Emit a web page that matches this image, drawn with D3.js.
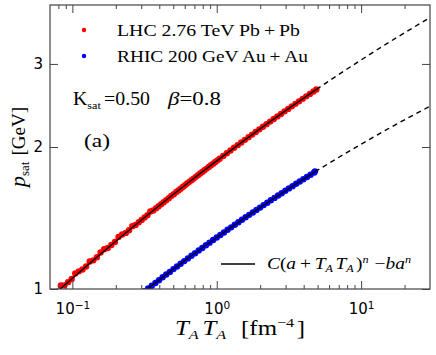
<!DOCTYPE html>
<html>
<head>
<meta charset="utf-8">
<script src="https://cdn.jsdelivr.net/npm/d3@7"></script>
<style>
body { margin: 0; background: #fff; }
svg { display: block; }
.serif { font-family: 'Liberation Serif', 'Times New Roman', serif; fill: #000; }
.axis text { font-family: 'DejaVu Sans', sans-serif; font-size: 15px; fill: #000; }
.axis line { stroke: #444; stroke-width: 1; }
.axis path { display: none; }
</style>
</head>
<body>
<svg id="chart" width="436" height="355"></svg>
<script>
// LHC 2.76 TeV Pb+Pb points (TA*TA in fm^-4, psat in GeV)
var lhcX = [0.0741, 0.0785, 0.0832, 0.0881, 0.0933, 0.0989, 0.1047, 0.1109, 0.1175, 0.1245,
            0.1318, 0.1396, 0.1479, 0.1567, 0.166, 0.1758, 0.1862, 0.1972, 0.2089, 0.2213,
            0.2344, 0.247, 0.26, 0.2739, 0.2884, 0.302, 0.3162, 0.3311, 0.3467, 0.3631,
            0.3802, 0.3959, 0.4121, 0.429, 0.4467, 0.465, 0.4842, 0.5041, 0.5248, 0.5433,
            0.5623, 0.5821, 0.6026, 0.6237, 0.6457, 0.6683, 0.6918, 0.7161, 0.7413, 0.7674,
            0.7943, 0.8222, 0.8511, 0.881, 0.912, 0.9441, 0.9772, 1.012, 1.047,
            1.109, 1.175, 1.245, 1.318, 1.396, 1.479, 1.567, 1.66, 1.758, 1.862,
            1.972, 2.089, 2.213, 2.344, 2.483, 2.63, 2.786, 2.951, 3.126, 3.311,
            3.508, 3.715, 3.936, 4.169, 4.416, 4.677, 4.898];
var lhcY = [0.972, 0.987, 1.017, 1.018, 1.034, 1.05, 1.079, 1.09, 1.1, 1.116,
            1.144, 1.15, 1.168, 1.195, 1.214, 1.222, 1.24, 1.258, 1.289, 1.305,
            1.315, 1.332, 1.359, 1.367, 1.385, 1.401, 1.418, 1.434, 1.46, 1.467,
            1.483, 1.498, 1.513, 1.528, 1.543, 1.558, 1.574, 1.589, 1.605, 1.618,
            1.632, 1.645, 1.659, 1.673, 1.687, 1.701, 1.714, 1.729, 1.743, 1.757,
            1.771, 1.786, 1.8, 1.815, 1.829, 1.844, 1.859, 1.874, 1.889,
            1.914, 1.94, 1.966, 1.992, 2.018, 2.044, 2.071, 2.098, 2.125, 2.152,
            2.18, 2.208, 2.236, 2.264, 2.293, 2.322, 2.35, 2.38, 2.409, 2.439,
            2.469, 2.499, 2.53, 2.561, 2.592, 2.623, 2.649];

// RHIC 200 GeV Au+Au points
var rhicX = [0.3162, 0.335, 0.3548, 0.3758, 0.3981, 0.4217, 0.4467, 0.4732, 0.5012, 0.5309,
             0.5623, 0.5957, 0.631, 0.6683, 0.7079, 0.7499, 0.7943, 0.8414, 0.8913, 0.9441,
             1, 1.059, 1.122, 1.189, 1.259, 1.334, 1.413, 1.496, 1.585, 1.679,
             1.778, 1.884, 1.995, 2.113, 2.239, 2.371, 2.512, 2.661, 2.818, 2.985,
             3.162, 3.35, 3.548, 3.758, 3.981, 4.217, 4.467, 4.732, 4.79];
var rhicY = [0.989, 1.003, 1.016, 1.03, 1.044, 1.059, 1.073, 1.087, 1.102, 1.116,
             1.131, 1.146, 1.161, 1.176, 1.191, 1.207, 1.222, 1.238, 1.254, 1.27,
             1.286, 1.302, 1.318, 1.335, 1.351, 1.368, 1.385, 1.402, 1.419, 1.436,
             1.453, 1.471, 1.488, 1.506, 1.524, 1.542, 1.56, 1.578, 1.596, 1.615,
             1.634, 1.652, 1.671, 1.69, 1.709, 1.728, 1.747, 1.766, 1.776];

// fit C(a+TA TA)^n - b a^n, solid over the data range, dashed beyond
var lhcFitX = [0.0794, 0.1585, 0.3162, 0.631, 1, 1.995, 4.898, 10, 15.85, 30];
var lhcFitY = [0.99, 1.189, 1.418, 1.678, 1.869, 2.185, 2.649, 3.059, 3.344, 3.762];
var rhicFitX = [0.3162, 0.631, 1, 1.995, 4.79, 10, 15.85, 30];
var rhicFitY = [0.989, 1.161, 1.286, 1.488, 1.772, 2.028, 2.197, 2.44];
var lhcFitEnd = 4.898;
var rhicFitEnd = 4.79;

// ticks
var xMajor = [0.1, 1, 10];
var xMinor = [0.08, 0.09, 0.2, 0.3, 0.4, 0.5, 0.6, 0.7, 0.8, 0.9,
              2, 3, 4, 5, 6, 7, 8, 9, 20];
var yTicks = [1, 2, 3];

function zip(xs, ys) {
    return xs.map(function(v, i) { return {x: v, y: ys[i]}; });
}

function drawChart(d3) {

    var svg = d3.select('#chart');

    var left = 50, right = 430, top = 5, bottom = 289;

    var x = d3.scaleLog().domain([0.07, 30]).range([left, right]);
    var y = d3.scaleLog().domain([1, 4]).range([bottom, top]);

    svg.append('defs').append('clipPath')
        .attr('id', 'plotclip')
        .append('rect')
        .attr('x', left).attr('y', top)
        .attr('width', right - left).attr('height', bottom - top);

    var plot = svg.append('g').attr('clip-path', 'url(#plotclip)');

    // data points
    plot.append('g').selectAll('circle')
        .data(zip(lhcX, lhcY))
        .enter().append('circle')
        .attr('cx', function(d) { return x(d.x); })
        .attr('cy', function(d) { return y(d.y); })
        .attr('r', 3.2)
        .attr('fill', '#ff0000');

    plot.append('g').selectAll('circle')
        .data(zip(rhicX, rhicY))
        .enter().append('circle')
        .attr('cx', function(d) { return x(d.x); })
        .attr('cy', function(d) { return y(d.y); })
        .attr('r', 3.2)
        .attr('fill', '#0000ff');

    // fit curves
    var line = d3.line()
        .x(function(d) { return x(d.x); })
        .y(function(d) { return y(d.y); })
        .curve(d3.curveMonotoneX);

    [[lhcFitX, lhcFitY, lhcFitEnd], [rhicFitX, rhicFitY, rhicFitEnd]].forEach(function(f) {
        var pts = zip(f[0], f[1]);
        plot.append('path')
            .datum(pts.filter(function(d) { return d.x <= f[2]; }))
            .attr('d', line)
            .attr('fill', 'none')
            .attr('stroke', '#000')
            .attr('stroke-width', 1.4);
        plot.append('path')
            .datum(pts.filter(function(d) { return d.x >= f[2]; }))
            .attr('d', line)
            .attr('fill', 'none')
            .attr('stroke', '#000')
            .attr('stroke-width', 1.4)
            .attr('stroke-dasharray', '5,4');
    });

    // axes, ticks pointing inwards
    var gxb = svg.append('g').attr('class', 'axis')
        .attr('transform', 'translate(0,' + bottom + ')')
        .call(d3.axisBottom(x).tickValues(xMajor).tickSize(-8).tickSizeOuter(0).tickPadding(14).tickFormat(''));
    gxb.selectAll('.tick text').each(function(d) {
        var t = d3.select(this);
        t.append('tspan').text('10');
        t.append('tspan').attr('dy', '-0.45em').style('font-size', '10.5px')
            .text(String(Math.round(Math.log10(d))).replace('-', '\u2212'));
    });
    svg.append('g').attr('class', 'axis')
        .attr('transform', 'translate(0,' + bottom + ')')
        .call(d3.axisBottom(x).tickValues(xMinor).tickSize(-4).tickSizeOuter(0).tickFormat(''));
    svg.append('g').attr('class', 'axis')
        .attr('transform', 'translate(0,' + top + ')')
        .call(d3.axisTop(x).tickValues(xMajor).tickSize(-8).tickSizeOuter(0).tickFormat(''));
    svg.append('g').attr('class', 'axis')
        .attr('transform', 'translate(0,' + top + ')')
        .call(d3.axisTop(x).tickValues(xMinor).tickSize(-4).tickSizeOuter(0).tickFormat(''));
    svg.append('g').attr('class', 'axis')
        .attr('transform', 'translate(' + left + ',0)')
        .call(d3.axisLeft(y).tickValues(yTicks).tickSize(-8).tickSizeOuter(0).tickPadding(7).tickFormat(d3.format('d')));
    svg.append('g').attr('class', 'axis')
        .attr('transform', 'translate(' + right + ',0)')
        .call(d3.axisRight(y).tickValues(yTicks).tickSize(-8).tickSizeOuter(0).tickFormat(''));

    svg.append('rect')
        .attr('x', left).attr('y', top)
        .attr('width', right - left).attr('height', bottom - top)
        .attr('fill', 'none')
        .attr('stroke', '#444')
        .attr('stroke-width', 1.2);

    // axis titles
    var xt = svg.append('text').attr('class', 'serif')
        .attr('x', 175).attr('y', 335)
        .attr('textLength', 130)
        .attr('lengthAdjust', 'spacingAndGlyphs')
        .style('font-size', '20px');
    xt.append('tspan').style('font-style', 'italic').text('T');
    xt.append('tspan').style('font-style', 'italic').style('font-size', '13px').attr('dy', 4).text('A');
    xt.append('tspan').style('font-style', 'italic').attr('dy', -4).attr('dx', 3).text('T');
    xt.append('tspan').style('font-style', 'italic').style('font-size', '13px').attr('dy', 4).text('A');
    xt.append('tspan').attr('dy', -4).attr('dx', 12).text('[fm');
    xt.append('tspan').style('font-size', '13px').attr('dy', -8).text('\u22124');
    xt.append('tspan').attr('dy', 8).attr('dx', 2).text(']');

    var yt = svg.append('text').attr('class', 'serif')
        .attr('transform', 'translate(25,' + (top + bottom) / 2 + ')rotate(-90)')
        .attr('text-anchor', 'middle')
        .style('font-size', '19px');
    yt.append('tspan').style('font-style', 'italic').style('font-size', '22px').text('p');
    yt.append('tspan').style('font-size', '13px').attr('dy', 4).text('sat');
    yt.append('tspan').attr('dy', -4).attr('dx', 6).text('[GeV]');

    // legend for the points
    var legend = [
        {label: 'LHC 2.76 TeV Pb\u2009+\u2009Pb', color: '#ff0000', y: 30, w: 183},
        {label: 'RHIC 200 GeV Au\u2009+\u2009Au', color: '#0000ff', y: 56, w: 191}
    ];
    legend.forEach(function(l) {
        svg.append('circle')
            .attr('cx', 84).attr('cy', l.y).attr('r', 2.2)
            .attr('fill', l.color);
        svg.append('text').attr('class', 'serif')
            .attr('x', 117).attr('y', l.y + 6)
            .attr('textLength', l.w)
            .attr('lengthAdjust', 'spacingAndGlyphs')
            .style('font-size', '17px')
            .text(l.label);
    });

    // parameters
    var kt = svg.append('text').attr('class', 'serif')
        .attr('x', 73).attr('y', 105)
        .attr('textLength', 77)
        .attr('lengthAdjust', 'spacingAndGlyphs')
        .style('font-size', '18px');
    kt.append('tspan').text('K');
    kt.append('tspan').style('font-size', '11px').attr('dy', 4).text('sat');
    kt.append('tspan').attr('dy', -4).attr('dx', 3).text('=0.50');
    var bt = svg.append('text').attr('class', 'serif')
        .attr('x', 168).attr('y', 105)
        .attr('textLength', 53)
        .attr('lengthAdjust', 'spacingAndGlyphs')
        .style('font-size', '18px');
    bt.append('tspan').style('font-style', 'italic').text('\u03b2');
    bt.append('tspan').text('=0.8');

    svg.append('text').attr('class', 'serif')
        .attr('x', 84).attr('y', 147)
        .attr('textLength', 26)
        .attr('lengthAdjust', 'spacingAndGlyphs')
        .style('font-size', '19px')
        .text('(a)');

    // legend for the fit
    svg.append('line')
        .attr('x1', 221).attr('x2', 255)
        .attr('y1', 264).attr('y2', 264)
        .attr('stroke', '#000').attr('stroke-width', 1.5);
    var ft = svg.append('text').attr('class', 'serif')
        .attr('x', 267).attr('y', 269)
        .attr('textLength', 144)
        .attr('lengthAdjust', 'spacingAndGlyphs')
        .style('font-size', '16px');
    ft.append('tspan').style('font-style', 'italic').text('C');
    ft.append('tspan').text('(');
    ft.append('tspan').style('font-style', 'italic').text('a');
    ft.append('tspan').text('\u2009+\u2009');
    ft.append('tspan').style('font-style', 'italic').text('T');
    ft.append('tspan').style('font-style', 'italic').style('font-size', '10px').attr('dy', 3).text('A');
    ft.append('tspan').style('font-style', 'italic').attr('dy', -3).attr('dx', 2).text('T');
    ft.append('tspan').style('font-style', 'italic').style('font-size', '10px').attr('dy', 3).text('A');
    ft.append('tspan').attr('dy', -3).attr('dx', 2).text(')');
    ft.append('tspan').style('font-style', 'italic').style('font-size', '10px').attr('dy', -6).text('n');
    ft.append('tspan').attr('dy', 6).attr('dx', 5).text('\u2212');
    ft.append('tspan').style('font-style', 'italic').text('ba');
    ft.append('tspan').style('font-style', 'italic').style('font-size', '10px').attr('dy', -6).text('n');

}

drawChart(window.d3);
</script>
</body>
</html>
